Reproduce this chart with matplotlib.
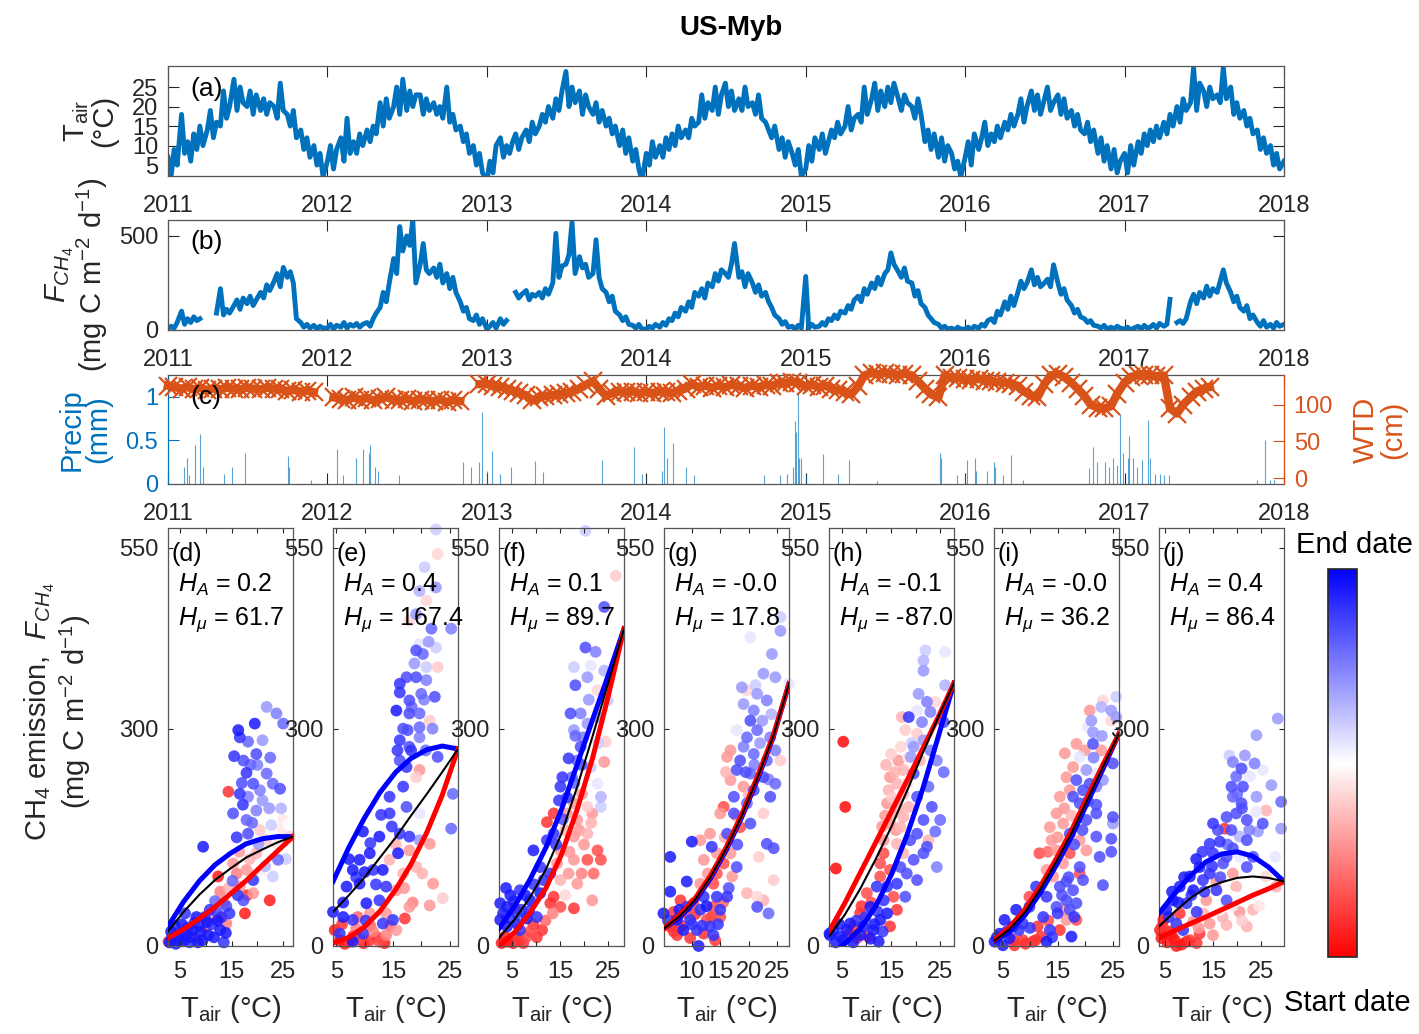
import numpy as np
import pandas as pd
import matplotlib

matplotlib.use("Agg")
import matplotlib.pyplot as plt  # noqa: E402
from matplotlib.colors import LinearSegmentedColormap, Normalize  # noqa: E402
from matplotlib.colorbar import ColorbarBase  # noqa: E402

plt.rcParams["font.family"] = ["Liberation Sans", "DejaVu Sans"]
plt.rcParams["mathtext.fontset"] = "custom"
plt.rcParams["mathtext.rm"] = "Liberation Sans"
plt.rcParams["mathtext.it"] = "Liberation Sans:italic"
plt.rcParams["mathtext.bf"] = "Liberation Sans:bold"

nan = float("nan")

# ---- air temperature and CH4 flux, 4 samples a month (days 1, 8, 15, 22), one row per half year, + 2018-01-01
TAIR = [
    7, 2, 9, 5, 18, 8, 11, 6, 13, 9, 15, 10, 14, 19, 12, 16, 15, 24, 17, 20, 27, 19, 25, 21,
    20, 24, 18, 23, 19, 22, 18, 21, 20, 17, 26, 19, 18, 15, 19, 12, 14, 9, 12, 7, 10, 5, 8, 2,
    6, 10, 4, 9, 12, 6, 17, 8, 11, 8, 13, 10, 14, 11, 15, 13, 21, 15, 22, 17, 20, 25, 18, 27,
    19, 24, 20, 23, 23, 18, 22, 19, 21, 18, 20, 17, 25, 16, 18, 14, 15, 11, 13, 8, 10, 5, 8, 3,
    1, 6, 3, 10, 12, 7, 10, 8, 11, 13, 9, 12, 14, 11, 16, 13, 15, 18, 16, 20, 17, 22, 19, 24,
    29, 20, 25, 21, 24, 18, 23, 20, 18, 21, 16, 19, 15, 17, 13, 15, 10, 14, 8, 12, 6, 9, 4, 1,
    8, 5, 11, 7, 10, 7, 12, 9, 13, 10, 15, 12, 14, 12, 17, 15, 16, 23, 17, 21, 19, 25, 18, 23,
    26, 20, 24, 19, 22, 19, 25, 20, 21, 18, 23, 17, 16, 14, 12, 15, 9, 12, 7, 11, 8, 5, 9, 2,
    4, 10, 6, 12, 9, 13, 8, 11, 14, 12, 16, 13, 15, 20, 14, 17, 18, 16, 25, 18, 22, 26, 19, 24,
    20, 25, 21, 26, 22, 19, 23, 21, 20, 17, 22, 18, 11, 14, 9, 13, 7, 12, 6, 10, 8, 4, 6, 2,
    7, 11, 5, 13, 9, 12, 16, 10, 13, 11, 15, 12, 16, 14, 18, 15, 18, 22, 16, 20, 24, 19, 23, 18,
    22, 25, 19, 21, 23, 18, 22, 17, 19, 15, 18, 14, 13, 16, 11, 14, 8, 12, 6, 10, 4, 9, 3, 6,
    8, 3, 10, 5, 11, 8, 13, 10, 14, 11, 15, 12, 16, 13, 18, 15, 20, 16, 22, 19, 21, 30, 19, 26,
    24, 20, 25, 22, 23, 21, 30, 22, 25, 18, 21, 17, 19, 15, 17, 13, 14, 9, 12, 8, 10, 5, 8, 4,
    6,
]
FCH4 = [
    5, 20, 10, 40, 100, 30, 60, 40, 70, 50, 60, nan, nan, nan, nan, 90, 220, 80, 110, 90, 130, 160, 110, 170,
    140, 180, 130, 160, 200, 170, 240, 210, 260, 300, 230, 333, 280, 310, 250, 60, 40, 15, 30, 10, 25, 5, 20, 10,
    10, 30, 5, 25, 15, 40, 10, 30, 20, 35, 15, 30, 40, 20, 60, 90, 120, 200, 150, 250, 380, 300, 550, 420,
    500, 450, 584, 250, 350, 460, 320, 300, 330, 280, 350, 250, 300, 220, 280, 200, 150, 100, 120, 60, 50, 80, 30, 60,
    5, 20, 40, 10, 60, 30, 50, nan, nan, 200, 170, 190, 210, 160, 190, 180, 200, 170, 220, 190, 250, 514, 280, 340,
    350, 400, 575, 300, 390, 330, 350, 280, 300, 480, 280, 220, 200, 150, 180, 100, 80, 50, 70, 30, 25, 10, 30, 5,
    5, 20, 10, 30, 15, 40, 25, 60, 50, 90, 70, 120, 100, 150, 120, 200, 180, 220, 170, 250, 230, 300, 260, 320,
    300, 280, 350, 460, 280, 310, 230, 300, 250, 200, 240, 180, 200, 150, 120, 80, 60, 30, 45, 15, 20, 5, 25, 10,
    285, 10, 30, 15, 20, 40, 25, 60, 50, 80, 60, 100, 90, 130, 110, 160, 180, 150, 220, 190, 250, 220, 280, 240,
    300, 320, 410, 350, 310, 280, 330, 260, 250, 180, 210, 140, 120, 80, 60, 40, 30, 10, 20, 5, 10, 0, 15, 5,
    5, 15, 0, 20, 10, 30, 20, 50, 60, 40, 100, 80, 150, 110, 180, 130, 200, 260, 220, 250, 320, 240, 280, 230,
    250, 270, 230, 347, 250, 190, 220, 160, 130, 90, 110, 70, 60, 40, 50, 25, 20, 10, 25, 5, 15, 5, 20, 10,
    5, 15, 0, 10, 20, 5, 25, 10, 15, 30, 10, 35, 20, 30, 163, nan, 40, 50, 35, 60, 150, 190, 140, 200,
    170, 233, 180, 220, 200, 260, 320, 250, 200, 150, 180, 120, 100, 130, 60, 80, 40, 20, 50, 15, 30, 10, 40, 20,
    30,
]
# ---- water table depth, semi-monthly (1st / 15th), one row per year, + 2018-01-01
WTD = [
    126, 124, 122, 124, 121, 123, 120, 122, 121, 123, 122, 121, 123, 122, 121, 123, 122, 121, 119, 120, 118, 119, 117, nan,
    nan, 110, 108, 106, 110, 107, 109, 106, 108, 110, 107, 106, 108, 105, 107, 106, 105, 107, 104, 106, 105, nan, nan, 128,
    128, 126, 124, 122, 119, 116, 113, 106, 110, 112, 113, 114, 116, 118, 122, 127, 132, 122, 112, 116, 118, 117, 118, 116,
    117, 116, 118, 117, 116, 119, 122, 128, 124, 126, 123, 126, 124, 127, 125, 123, 126, 124, 127, 126, 129, 130, 131, 130,
    125, 127, 124, 126, 122, 120, 118, 114, 125, 140, 143, 142, 143, 142, 141, 142, 140, 132, 122, 114, 110, 140, 137, 136,
    135, 134, 135, 133, 132, 131, 130, 128, 126, 118, 112, 110, 128, 140, 142, 138, 130, 122, 112, 100, 96, 95, 98, 115,
    130, 138, 140, 141, 140, 139, 140, 95, 88, 100, 110, 118, 122, 124, nan, nan, nan, nan, nan, nan, nan, nan, nan, nan,
    nan,
]
PRECIP_YEAR = [
    2011.10, 2011.12, 2011.13, 2011.17, 2011.20, 2011.22, 2011.35, 2011.40, 2011.48, 2011.75, 2011.76, 2011.90,
    2012.06, 2012.10, 2012.18, 2012.22, 2012.26, 2012.27, 2012.30, 2012.32, 2012.45,
    2012.85, 2012.90, 2012.95, 2012.97, 2013.00, 2013.03, 2013.08, 2013.15, 2013.30, 2013.35, 2013.72, 2013.92, 2013.97,
    2014.10, 2014.11, 2014.13, 2014.17, 2014.25, 2014.30,
    2014.74, 2014.84, 2014.88, 2014.92, 2014.93, 2014.94, 2014.95, 2014.96, 2014.97, 2015.00, 2015.11, 2015.20, 2015.27, 2015.45,
    2015.84, 2015.85, 2015.95, 2016.00, 2016.01, 2016.06, 2016.07, 2016.14, 2016.18, 2016.19, 2016.24, 2016.29, 2016.36,
    2016.78, 2016.80, 2016.83, 2016.88, 2016.90, 2016.93, 2016.95, 2016.97, 2016.99, 2017.02, 2017.03, 2017.05, 2017.08,
    2017.11, 2017.15, 2017.16, 2017.19, 2017.22, 2017.25, 2017.28,
    2017.83, 2017.88, 2017.91, 2017.94,
]
PRECIP_MM = [
    0.2, 0.3, 0.1, 0.45, 0.57, 0.2, 0.12, 0.2, 0.35, 0.32, 0.2, 0.05,
    0.4, 0.1, 0.3, 0.4, 0.35, 0.45, 0.2, 0.15, 0.1,
    0.25, 0.2, 0.25, 0.82, 0.15, 0.38, 0.12, 0.2, 0.26, 0.14, 0.27, 0.42, 0.12,
    0.15, 0.65, 0.3, 0.47, 0.2, 0.1,
    0.1, 0.1, 0.12, 0.2, 0.72, 0.6, 1.05, 0.3, 0.3, 0.1, 0.34, 0.12, 0.27, 0.03,
    0.36, 0.3, 0.1, 0.1, 0.28, 0.3, 0.15, 0.15, 0.25, 0.2, 0.1, 0.33, 0.05,
    0.18, 0.43, 0.25, 0.25, 0.2, 0.3, 0.22, 0.8, 0.35, 0.3, 0.55, 0.3, 0.2,
    0.28, 0.73, 0.3, 0.12, 0.12, 0.1, 0.1,
    0.05, 0.5, 0.05, 0.05,
]

# ---- scatter panels: (Tair degC, FCH4, date position 0=start .. 1=end)
POINTS_D = [
    (3.0, 5, .95), (3.5, 12, .9), (4.2, 3, .95), (5.0, 18, .9), (5.8, 8, .95), (6.5, 25, .9), (7.2, 12, .95),
    (7.8, 32, .9), (8.5, 5, .95), (9.0, 20, .95), (9.8, 40, .9), (10.5, 15, .95), (11.2, 30, .9), (12.0, 48, .85),
    (12.8, 22, .95), (13.5, 5, .9), (14.0, 55, .85), (9.5, 137, .95), (6.0, 45, .9), (11.8, 62, .8), (15.2, 90, .8),
    (16.2, 70, .9), (17.3, 63, .85), (15.5, 262, .9), (16.3, 298, .95), (16.6, 288, .9), (17.3, 256, .85),
    (18.2, 282, .8), (19.5, 307, .95), (19.8, 265, .85), (21.0, 284, .7), (21.8, 330, .7), (23.7, 321, .75),
    (25.0, 307, .8), (17.9, 239, .9), (19.2, 224, .85), (16.6, 210, .9), (21.8, 238, .8), (23.0, 224, .8),
    (24.4, 217, .85), (18.2, 206, .75), (21.0, 201, .7), (15.3, 183, .85), (17.9, 174, .8), (19.8, 187, .75),
    (18.2, 155, .85), (20.2, 141, .7), (22.7, 167, .6), (24.0, 119, .8), (23.0, 96, .6), (19.2, 91, .9),
    (21.5, 110, .65), (25.5, 120, .6), (14.4, 213, .1), (12.4, 96, .05), (17.6, 45, .05), (22.4, 63, .05),
    (15.3, 114, .3), (17.9, 105, .3), (19.8, 128, .35), (21.8, 146, .4), (25.0, 174, .45), (26.3, 151, .4),
    (23.0, 155, .5), (12.7, 40, .1), (14.0, 31, .25), (11.5, 45, .3), (2.8, 6, .1), (16.6, 82, .3), (19.2, 73, .3),
    (21.0, 91, .5), (13.5, 60, .2), (10.0, 25, .2), (8.0, 10, .15), (24.0, 140, .45), (20.5, 160, .4),
    (18.5, 120, .35), (16.0, 100, .25),
    (3.3, 20, .95), (4.0, 28, .9), (4.8, 8, .95), (5.4, 30, .95), (6.2, 15, .95), (6.9, 5, .9), (7.5, 22, .95),
    (8.2, 40, .95), (8.8, 28, .9), (9.4, 8, .95), (10.2, 33, .95), (10.8, 50, .9), (11.6, 12, .95), (12.3, 35, .95),
    (13.1, 40, .9), (13.9, 18, .95), (14.6, 45, .9), (16.0, 150, .9), (17.0, 225, .85), (18.7, 250, .8),
    (20.5, 215, .75), (22.3, 190, .7), (24.6, 190, .65), (19.0, 170, .8), (17.2, 195, .9), (20.0, 250, .75),
    (22.5, 260, .8), (16.5, 130, .3), (14.5, 80, .35), (12.8, 75, .25), (18.0, 70, .1), (20.5, 100, .45),
    (24.5, 160, .45), (26.0, 168, .5),
]
POINTS_E = [
    (22.6, 575, .6), (22.9, 541, .42), (20.6, 523, .6), (19.7, 490, .65), (22.6, 495, .7), (20.9, 477, .42),
    (19.1, 458, .7), (25.3, 438, .75), (21.8, 438, .8), (17.9, 449, .42), (19.7, 417, .55), (22.6, 412, .6),
    (19.1, 408, .85), (20.3, 403, .8), (22.9, 385, .4), (20.9, 385, .6), (18.8, 390, .7), (17.4, 371, .85),
    (19.1, 371, .85), (20.9, 367, .75), (16.2, 362, .9), (20.0, 348, .8), (22.4, 344, .85), (16.2, 350, .9),
    (17.9, 339, .85), (19.7, 321, .8), (15.6, 325, .95), (17.9, 321, .85), (21.5, 311, .4), (17.6, 298, .85),
    (19.7, 302, .8), (16.2, 284, .9), (17.9, 275, .85), (19.7, 288, .75), (22.9, 261, .85), (16.2, 256, .85),
    (17.4, 247, .9), (19.1, 233, .4), (19.7, 243, .3), (14.4, 206, .9), (16.8, 220, .9), (25.6, 210, .8),
    (17.4, 192, .85), (21.5, 201, .5), (12.9, 181, .9), (14.4, 183, .9), (19.7, 183, .55), (25.3, 162, .8),
    (12.6, 151, .95), (9.7, 158, .95), (16.2, 155, .9), (17.9, 151, .9), (19.7, 146, .7), (15.9, 128, .95),
    (21.5, 141, .3), (17.9, 132, .3), (14.4, 119, .35), (10.9, 128, .95), (9.1, 119, .95), (11.5, 105, .9),
    (7.9, 105, .95), (19.1, 109, .35), (16.8, 100, .35), (22.1, 86, .3), (9.1, 86, .95), (6.8, 82, .95),
    (13.8, 82, .9), (15.6, 77, .3), (23.8, 66, .4), (21.5, 56, .3), (17.9, 54, .3), (12.6, 63, .9), (10.3, 59, .95),
    (4.4, 47, .95), (6.2, 40, .95), (7.9, 36, .9), (10.9, 45, .3), (13.8, 45, .3), (17.1, 38, .1), (13.2, 31, .9),
    (15.0, 36, .9), (9.7, 17, .9), (7.9, 6, .95), (4.7, 22, .05), (5.6, 8, .05), (7.4, 6, .1), (9.1, 11, .15),
    (10.9, 8, .1), (12.6, 6, .15), (11.5, 20, .25), (13.8, 15, .25), (15.6, 22, .3), (8.5, 24, .25), (5.6, 17, .9),
    (6.5, 3, .05), (8.0, 14, .1), (9.8, 4, .05), (11.0, 28, .2), (12.2, 12, .1), (13.5, 4, .05), (14.5, 28, .2),
    (6.0, 30, .1), (8.8, 40, .2), (10.2, 35, .9), (12.0, 85, .9), (13.2, 105, .95), (11.0, 142, .9),
    (14.8, 165, .9), (15.5, 140, .35), (17.0, 80, .3), (18.5, 60, .25), (20.2, 100, .35), (16.8, 300, .85),
    (18.3, 330, .8), (20.5, 340, .75), (21.3, 420, .7), (18.2, 270, .9), (15.8, 270, .9), (20.8, 270, .8),
    (22.0, 300, .75), (6.2, 60, .95), (7.2, 120, .95), (8.5, 95, .9), (10.0, 102, .95),
]
POINTS_F = [
    (20.3, 573, .6), (26.6, 511, .4), (24.2, 468, .85), (20.3, 412, .85), (22.4, 406, .75), (17.9, 385, .6),
    (21.4, 387, .55), (24.2, 380, .65), (18.2, 360, .85), (20.7, 371, .7), (22.8, 353, .42), (24.9, 339, .6),
    (17.2, 321, .85), (19.3, 321, .75), (20.7, 307, .7), (22.8, 316, .65), (17.9, 298, .7), (19.8, 288, .75),
    (24.5, 282, .4), (19.3, 275, .85), (16.8, 259, .9), (18.6, 256, .8), (24.2, 254, .3), (21.4, 247, .6),
    (22.8, 224, .55), (15.5, 233, .9), (17.5, 233, .8), (15.1, 220, .9), (23.5, 206, .65), (19.6, 210, .3),
    (14.8, 201, .9), (17.9, 197, .3), (20.7, 192, .4), (23.5, 192, .6), (13.7, 183, .1), (16.5, 183, .3),
    (12.3, 171, .1), (21.7, 183, .3), (18.6, 174, .3), (16.1, 160, .35), (13.7, 155, .9), (17.9, 151, .3),
    (20.7, 155, .35), (12.3, 146, .9), (9.5, 132, .95), (15.1, 132, .3), (22.8, 132, .15), (20.7, 119, .15),
    (23.5, 119, .15), (14.4, 114, .3), (17.9, 119, .3), (10.9, 109, .9), (13.0, 100, .9), (16.8, 100, .3),
    (11.6, 91, .9), (15.1, 91, .35), (18.6, 86, .3), (21.7, 63, .3), (16.1, 70, .42), (13.7, 68, .1),
    (10.9, 73, .95), (8.8, 63, .95), (13.0, 59, .1), (17.9, 52, .1), (15.1, 54, .15), (6.7, 77, .9), (4.7, 70, .95),
    (2.6, 59, .95), (4.0, 54, .95), (6.0, 45, .9), (8.1, 38, .95), (10.2, 40, .9), (2.6, 36, .95), (4.0, 27, .95),
    (6.7, 22, .9), (9.5, 29, .1), (11.3, 22, .1), (3.6, 13, .05), (5.3, 4, .05), (6.7, 8, .1), (2.9, 4, .05),
    (8.1, 13, .15), (5.7, 52, .05),
    (3.2, 45, .95), (3.8, 80, .95), (4.6, 38, .9), (5.4, 62, .95), (6.2, 30, .95), (7.0, 50, .9), (7.8, 70, .95),
    (8.6, 48, .9), (9.6, 85, .9), (4.2, 6, .05), (6.0, 14, .1), (7.4, 4, .1), (8.8, 20, .15), (10.2, 12, .1),
    (12.0, 35, .2), (13.5, 45, .25), (14.2, 140, .9), (15.6, 175, .85), (16.5, 205, .9), (18.0, 225, .8),
    (19.0, 160, .3), (20.0, 140, .3), (21.5, 170, .35), (22.0, 100, .2), (19.5, 100, .25), (17.0, 130, .3),
    (18.2, 290, .8), (21.0, 340, .7), (19.5, 250, .85), (23.0, 280, .6),
]
POINTS_G = [
    (25.6, 435, .7), (25.6, 454, .6), (20.3, 426, .55), (24.1, 403, .7), (22.6, 376, .7), (24.7, 371, .7),
    (27.1, 362, .55), (18.8, 357, .7), (21.5, 348, .7), (19.7, 353, .42), (23.2, 339, .75), (19.1, 334, .7),
    (20.9, 325, .75), (22.4, 311, .7), (17.9, 298, .55), (20.3, 311, .85), (21.5, 298, .8), (23.8, 288, .75),
    (19.7, 288, .8), (16.8, 270, .3), (19.1, 275, .75), (24.7, 270, .75), (25.6, 256, .4), (16.2, 261, .3),
    (18.5, 256, .85), (20.9, 265, .8), (23.2, 256, .8), (17.9, 243, .85), (20.3, 238, .8), (16.8, 229, .3),
    (22.6, 233, .85), (24.7, 224, .8), (19.1, 220, .3), (20.9, 215, .85), (17.4, 206, .85), (23.8, 206, .85),
    (19.7, 197, .8), (22.6, 183, .4), (15.0, 183, .3), (17.4, 183, .85), (15.6, 192, .15), (20.3, 169, .85),
    (18.5, 164, .15), (13.2, 155, .3), (16.2, 155, .85), (11.5, 146, .3), (10.0, 144, .95), (13.5, 137, .9),
    (23.2, 141, .85), (24.4, 135, .85), (21.8, 123, .4), (14.4, 128, .3), (16.8, 128, .3), (6.2, 123, .95),
    (12.1, 119, .3), (15.6, 114, .15), (17.9, 109, .85), (14.4, 100, .15), (17.1, 96, .3), (9.1, 89, .95),
    (24.4, 91, .4), (11.5, 86, .3), (13.8, 86, .15), (6.2, 75, .95), (19.7, 73, .35), (21.5, 68, .42),
    (22.6, 63, .35), (16.2, 68, .9), (14.4, 68, .9), (12.1, 68, .9), (8.0, 63, .1), (10.3, 59, .15),
    (21.5, 54, .85), (23.5, 45, .8), (5.0, 45, .95), (6.8, 47, .1), (9.1, 54, .9), (11.5, 50, .9), (13.8, 54, .15),
    (15.0, 50, .9), (7.4, 36, .95), (9.7, 36, .9), (12.6, 36, .15), (15.0, 40, .15), (6.2, 27, .1), (8.5, 22, .95),
    (10.9, 22, .9), (13.2, 27, .9), (7.4, 15, .1), (9.7, 11, .1), (13.8, 15, .9), (14.1, 8, .1), (11.2, 0, .95),
    (12.1, 17, .1),
    (5.8, 35, .9), (6.8, 20, .1), (7.8, 50, .95), (8.2, 28, .1), (9.0, 45, .15), (10.0, 30, .9), (10.6, 44, .1),
    (11.8, 28, .9), (12.6, 55, .95), (13.4, 40, .1), (14.6, 30, .9), (15.5, 60, .2), (16.5, 80, .85),
    (12.8, 100, .3), (15.8, 150, .35), (17.8, 180, .3), (18.0, 140, .85), (19.5, 240, .85), (21.0, 250, .75),
    (22.0, 280, .7), (20.0, 210, .35), (23.5, 230, .75), (24.0, 320, .65), (21.2, 360, .6), (18.2, 320, .5),
    (16.0, 240, .35),
]
POINTS_H = [
    (5.3, 282, .02), (5.7, 192, .02), (3.8, 107, .02), (22.0, 408, .6), (26.0, 406, .55), (21.6, 394, .65),
    (21.6, 380, .7), (26.0, 360, .65), (20.6, 348, .7), (22.3, 337, .75), (24.0, 337, .42), (20.3, 325, .55),
    (23.0, 323, .75), (18.6, 316, .9), (17.2, 316, .35), (25.7, 309, .85), (21.3, 309, .75), (20.3, 293, .4),
    (17.9, 298, .4), (21.6, 284, .7), (19.6, 275, .7), (23.0, 270, .75), (19.0, 261, .7), (16.5, 256, .3),
    (20.9, 256, .35), (24.3, 256, .75), (17.5, 243, .35), (19.6, 238, .85), (14.8, 233, .3), (25.7, 240, .8),
    (16.2, 224, .35), (18.2, 224, .42), (22.6, 220, .8), (14.5, 215, .35), (17.5, 210, .35), (20.3, 206, .85),
    (16.2, 201, .35), (14.2, 197, .3), (23.3, 192, .85), (18.6, 192, .35), (15.5, 183, .35), (17.5, 178, .35),
    (21.6, 174, .85), (25.0, 174, .8), (14.8, 169, .3), (16.9, 164, .35), (24.0, 158, .8), (20.3, 155, .85),
    (22.6, 146, .35), (18.9, 146, .85), (13.5, 146, .3), (16.2, 141, .35), (22.3, 137, .85), (24.3, 109, .75),
    (21.6, 128, .85), (17.5, 128, .35), (13.5, 128, .15), (19.6, 119, .85), (16.9, 109, .85), (12.8, 114, .15),
    (14.8, 105, .15), (18.2, 100, .85), (20.3, 91, .85), (16.2, 86, .9), (12.8, 96, .15), (14.2, 82, .9),
    (12.1, 82, .9), (17.9, 68, .85), (15.5, 68, .15), (10.1, 73, .15), (13.5, 63, .9), (10.8, 54, .95),
    (14.2, 45, .95), (16.2, 50, .1), (8.7, 45, .1), (12.8, 36, .95), (14.8, 27, .1), (6.7, 31, .95), (9.4, 27, .95),
    (11.4, 22, .95), (3.3, 22, .95), (4.7, 13, .95), (6.7, 17, .1), (8.1, 11, .1), (10.4, 13, .1), (12.5, 6, .95),
    (2.6, 15, .95), (2.5, 17, .95),
    (3.8, 5, .95), (4.5, 30, .95), (5.3, 8, .95), (6.0, 22, .95), (7.3, 5, .95), (8.0, 35, .9), (8.8, 15, .95),
    (9.8, 40, .9), (10.8, 10, .95), (11.6, 30, .95), (12.2, 48, .9), (13.3, 20, .9), (7.5, 28, .1), (9.0, 55, .1),
    (11.0, 60, .15), (14.0, 250, .35), (15.0, 265, .4), (15.8, 240, .35), (16.5, 190, .35), (15.2, 205, .4),
    (13.8, 180, .3), (17.0, 275, .42), (18.5, 260, .45), (13.2, 165, .3), (16.0, 160, .3), (19.2, 280, .6),
]
POINTS_I = [
    (25.6, 344, .6), (23.2, 339, .42), (20.8, 325, .3), (22.9, 330, .65), (24.7, 325, .7), (25.6, 316, .7),
    (21.1, 311, .7), (20.5, 302, .55), (21.4, 295, .7), (24.7, 311, .42), (18.4, 279, .3), (21.4, 279, .85),
    (16.3, 266, .3), (19.0, 261, .55), (19.9, 270, .3), (22.9, 270, .3), (17.8, 247, .3), (20.2, 243, .7),
    (22.0, 238, .55), (25.0, 252, .85), (16.6, 233, .3), (18.4, 229, .85), (20.8, 224, .85), (23.2, 229, .7),
    (15.4, 206, .3), (17.8, 206, .85), (19.6, 215, .85), (22.0, 220, .75), (14.8, 183, .3), (19.0, 197, .85),
    (22.0, 183, .85), (25.0, 178, .85), (20.2, 174, .85), (25.0, 169, .7), (13.6, 164, .3), (16.0, 169, .3),
    (17.2, 155, .85), (19.0, 146, .3), (22.0, 151, .85), (24.7, 148, .85), (13.9, 146, .3), (14.8, 132, .3),
    (17.2, 128, .15), (11.7, 128, .15), (20.2, 132, .3), (22.6, 123, .85), (24.7, 130, .85), (16.0, 114, .3),
    (13.0, 105, .3), (19.0, 109, .85), (23.2, 84, .85), (14.2, 96, .3), (16.6, 89, .85), (19.6, 91, .85),
    (19.0, 100, .15), (11.1, 82, .9), (15.4, 82, .85), (17.8, 77, .85), (9.9, 68, .15), (13.0, 68, .9),
    (16.6, 63, .85), (18.4, 59, .85), (7.5, 50, .95), (9.9, 54, .9), (14.8, 54, .85), (17.2, 50, .85),
    (16.6, 36, .3), (18.4, 36, .15), (5.4, 36, .95), (6.9, 27, .95), (8.7, 31, .9), (11.4, 27, .1), (13.6, 22, .9),
    (15.4, 22, .1), (17.5, 13, .95), (4.5, 17, .95), (6.3, 11, .95), (8.7, 8, .1), (10.5, 6, .1), (13.0, 6, .95),
    (3.6, 6, .95), (5.1, 1, .95), (7.2, 1, .1), (12.0, 13, .1),
    (4.0, 12, .95), (5.8, 20, .9), (7.0, 8, .1), (8.0, 22, .9), (9.2, 3, .1), (10.0, 25, .9), (11.0, 8, .1),
    (12.4, 40, .9), (13.3, 35, .15), (14.0, 12, .9), (15.0, 45, .9), (15.8, 70, .85), (16.2, 50, .3),
    (17.0, 95, .85), (18.0, 40, .9), (15.0, 150, .3), (16.2, 190, .3), (17.2, 215, .3), (17.5, 180, .35),
    (18.0, 140, .85), (19.5, 160, .85), (20.5, 200, .85), (21.5, 260, .75), (23.0, 290, .7), (22.0, 195, .85),
    (13.2, 130, .2),
]
POINTS_J = [
    (28.4, 314, .7), (24.0, 291, .7), (18.4, 263, .6), (21.6, 263, .7), (19.1, 254, .75), (23.6, 252, .75),
    (20.9, 245, .85), (25.3, 243, .55), (19.8, 234, .8), (22.6, 234, .55), (18.8, 220, .85), (21.2, 220, .85),
    (27.1, 222, .7), (29.1, 199, .8), (19.1, 206, .8), (24.0, 206, .7), (20.9, 197, .85), (26.0, 187, .35),
    (19.8, 183, .85), (24.0, 185, .55), (17.8, 178, .85), (22.0, 174, .85), (15.0, 169, .9), (17.4, 162, .1),
    (25.3, 169, .85), (29.1, 162, .7), (18.8, 160, .85), (20.5, 151, .65), (24.3, 158, .7), (14.3, 141, .9),
    (16.4, 144, .9), (22.0, 146, .85), (19.1, 135, .85), (15.0, 128, .9), (17.8, 123, .85), (20.5, 123, .55),
    (23.3, 123, .85), (27.9, 123, .55), (12.2, 109, .95), (17.1, 114, .85), (14.3, 100, .9), (19.1, 100, .3),
    (22.0, 109, .85), (26.0, 96, .42), (10.2, 96, .95), (12.9, 91, .9), (15.7, 89, .3), (19.8, 82, .35),
    (28.1, 82, .35), (8.1, 82, .95), (10.9, 77, .95), (15.7, 77, .9), (24.0, 73, .5), (19.1, 68, .5),
    (6.7, 63, .95), (9.5, 59, .9), (13.6, 63, .3), (17.8, 63, .85), (5.3, 50, .95), (8.1, 45, .1), (11.6, 47, .9),
    (16.4, 50, .5), (20.5, 47, .3), (23.3, 50, .35), (4.7, 36, .05), (7.4, 31, .9), (10.9, 34, .3), (14.3, 31, .3),
    (17.8, 29, .35), (22.0, 27, .35), (4.0, 22, .05), (6.0, 20, .05), (8.8, 22, .9), (12.2, 17, .1), (15.0, 15, .3),
    (4.3, 11, .05), (7.1, 8, .05), (9.5, 6, .05), (11.6, 4, .1), (7.4, 0, .05),
    (4.5, 28, .1), (5.5, 5, .05), (6.5, 14, .05), (8.5, 2, .05), (10.2, 8, .1), (5.8, 40, .9), (6.5, 75, .95),
    (7.8, 60, .95), (9.0, 95, .95), (10.5, 70, .9), (11.5, 120, .95), (12.8, 130, .9), (13.2, 75, .9),
    (14.8, 110, .9), (16.0, 160, .85), (16.5, 95, .85), (18.0, 140, .8), (21.0, 190, .85), (20.0, 210, .8),
    (22.5, 160, .75), (17.0, 40, .35), (19.0, 55, .45), (21.0, 35, .4), (24.5, 55, .45), (13.0, 45, .35),
    (12.0, 25, .3),
]

# fitted curves sampled across each panel's Tair range: whole period (black), late (blue), early (red)
CURVE_T_D = [2.7, 5.7, 8.8, 11.8, 14.8, 17.8, 20.9, 23.9, 26.9]
BLUE_D = [27, 61, 90, 112, 128, 141, 148, 151, 151]
BLACK_D = [20, 47, 71, 91, 107, 122, 133, 143, 151]
RED_D = [11, 23, 38, 54, 72, 90, 111, 131, 151]
CURVE_T_E = [4.4, 7.2, 9.9, 12.7, 15.5, 18.2, 21.0, 23.7, 26.5]
BLUE_E = [89, 136, 176, 212, 240, 259, 271, 276, 272]
BLACK_E = [47, 70, 94, 122, 150, 180, 210, 240, 272]
RED_E = [4, 12, 26, 48, 78, 113, 157, 208, 272]
CURVE_T_F = [2.35, 5.6, 8.8, 12.1, 15.3, 18.6, 21.8, 25.1, 28.3]
BLUE_F = [24, 55, 92, 136, 188, 251, 313, 375, 438]
BLACK_F = [11, 37, 67, 106, 155, 220, 290, 365, 438]
RED_F = [0, 19, 46, 80, 126, 189, 260, 347, 438]
CURVE_T_G = [5.1, 7.85, 10.6, 13.35, 16.1, 18.85, 21.6, 24.35, 27.1]
BLUE_G = [24, 39, 62, 94, 133, 179, 231, 289, 362]
BLACK_G = [24, 41, 64, 96, 135, 181, 233, 290, 362]
RED_G = [24, 43, 66, 98, 137, 183, 235, 291, 362]
CURVE_T_H = [2.4, 5.6, 8.75, 11.9, 15.1, 18.3, 21.5, 24.6, 27.8]
BLUE_H = [-12, 3, 24, 55, 99, 154, 218, 289, 363]
BLACK_H = [13, 43, 79, 120, 165, 215, 267, 316, 363]
RED_H = [20, 59, 101, 143, 186, 229, 273, 316, 363]
CURVE_T_I = [3.5, 6.3, 9.15, 12.0, 14.8, 17.6, 20.45, 23.3, 26.1]
BLUE_I = [6, 20, 43, 75, 112, 152, 199, 246, 293]
BLACK_I = [7, 23, 47, 80, 117, 157, 203, 249, 293]
RED_I = [8, 26, 51, 84, 121, 161, 207, 252, 293]
CURVE_T_J = [3.8, 7.0, 10.3, 13.5, 16.75, 20.0, 23.2, 26.5, 29.7]
BLUE_J = [45, 72, 97, 116, 127, 130, 124, 109, 89]
BLACK_J = [27, 47, 66, 80, 88, 94, 96, 94, 89]
RED_J = [11, 21, 31, 40, 50, 60, 70, 79, 89]

PANEL_TAGS = ["(d)", "(e)", "(f)", "(g)", "(h)", "(i)", "(j)"]
H_A = ["0.2", "0.4", "0.1", "-0.0", "-0.1", "-0.0", "0.4"]
H_MU = ["61.7", "167.4", "89.7", "17.8", "-87.0", "36.2", "86.4"]

BLUE = "#0072BD"
ORANGE = "#D95319"
INK = "#262626"
FRAME = "#555555"
DATE_CMAP = LinearSegmentedColormap.from_list("start_end", ["#ff0000", "#ffffff", "#0000ff"])

W, H = 1419, 1034
fig = plt.figure(figsize=(W / 100, H / 100), dpi=100)


def px_axes(left, top, right, bottom):
    """Axes placed by pixel box (origin top-left), like the reference layout."""
    return fig.add_axes([left / W, 1 - bottom / H, (right - left) / W, (bottom - top) / H])


def frame(ax, ticklen, xpad=11):
    ax.tick_params(direction="in", top=True, right=True, length=ticklen, width=0.8,
                   color=INK, labelcolor=INK, labelsize=17)
    ax.tick_params(axis="x", pad=xpad)
    ax.tick_params(axis="y", pad=7)
    for spine in ax.spines.values():
        spine.set_color(FRAME)
        spine.set_linewidth(0.9)


def decimal_year(dates):
    dates = pd.DatetimeIndex(dates)
    days = np.where(dates.is_leap_year, 366, 365)
    return np.asarray(dates.year + (dates.dayofyear - 1) / days, dtype=float)


month_starts = pd.date_range("2011-01-01", "2017-12-01", freq="MS")
weekly_dates = [m + pd.Timedelta(days=d) for m in month_starts for d in (0, 7, 14, 21)]
weekly_years = decimal_year(weekly_dates + [pd.Timestamp("2018-01-01")])
semimonthly_years = decimal_year(pd.date_range("2011-01-01", periods=len(WTD), freq="SMS"))
year_ticks = list(range(2011, 2019))

fig.text(731 / W, 1 - 28 / H, "US-Myb", ha="center", va="center", fontsize=20, fontweight="bold")

# (a) air temperature
ax_a = px_axes(168, 66, 1284, 176)
ax_a.plot(weekly_years, TAIR, color=BLUE, lw=3.5)
ax_a.set_xlim(2011, 2018)
ax_a.set_ylim(2.2, 30.4)
ax_a.set_xticks(year_ticks)
ax_a.set_yticks([5, 10, 15, 20, 25])
frame(ax_a, 8, xpad=14)
ax_a.set_ylabel("T$_{\\mathrm{air}}$\n(°C)", fontsize=21, color=INK, linespacing=0.95)
ax_a.yaxis.set_label_coords(-0.045, 0.5)
ax_a.text(0.02, 0.90, "(a)", transform=ax_a.transAxes, fontsize=19, va="top")

# (b) methane flux
ax_b = px_axes(168, 220, 1284, 330)
ax_b.plot(weekly_years, FCH4, color=BLUE, lw=3.5)
ax_b.set_xlim(2011, 2018)
ax_b.set_ylim(0, 585)
ax_b.set_xticks(year_ticks)
ax_b.set_yticks([0, 500])
frame(ax_b, 8, xpad=14)
ax_b.set_ylabel("$F_{CH_4}$\n(mg C m$^{-2}$ d$^{-1}$)", fontsize=21, color=INK, linespacing=0.95)
ax_b.yaxis.set_label_coords(-0.052, 0.5)
ax_b.text(0.02, 0.91, "(b)", transform=ax_b.transAxes, fontsize=19, va="top")

# (c) precipitation + water table depth
ax_c = px_axes(168, 375, 1284, 484)
ax_c.vlines(PRECIP_YEAR, 0, PRECIP_MM, color=BLUE, lw=0.8, alpha=0.65)
ax_c.set_xlim(2011, 2018)
ax_c.set_ylim(0, 1.25)
ax_c.set_xticks(year_ticks)
ax_c.set_yticks([0, 0.5, 1], ["0", "0.5", "1"])
frame(ax_c, 8, xpad=14)
ax_c.tick_params(axis="y", right=False, color=BLUE, labelcolor=BLUE)
ax_c.spines["left"].set_color(BLUE)
ax_c.spines["right"].set_color(ORANGE)
ax_c.set_ylabel("Precip\n(mm)", fontsize=21, color=BLUE, linespacing=0.95)
ax_c.yaxis.set_label_coords(-0.05, 0.5)

ax_w = ax_c.twinx()
ax_w.plot(semimonthly_years, WTD, color=ORANGE, lw=6, clip_on=False)
ax_w.plot(semimonthly_years, WTD, ls="none", marker="x", ms=13, mew=1.6, color=ORANGE, clip_on=False)
ax_w.set_ylim(-8, 140.5)
ax_w.set_yticks([0, 50, 100])
ax_w.tick_params(direction="in", length=8, width=0.8, color=ORANGE, labelcolor=ORANGE,
                 labelsize=17, pad=7)
for side in ("left", "top", "bottom"):
    ax_w.spines[side].set_visible(False)
ax_w.spines["right"].set_color(ORANGE)
ax_w.set_ylabel("WTD\n(cm)", fontsize=21, color=ORANGE, linespacing=0.95)
ax_w.yaxis.set_label_coords(1.061, 0.5)
ax_w.text(0.02, 0.91, "(c)", transform=ax_w.transAxes, fontsize=19, va="top")

# (d)-(j) flux vs temperature, coloured by date
panel_points = [POINTS_D, POINTS_E, POINTS_F, POINTS_G, POINTS_H, POINTS_I, POINTS_J]
curve_t = [CURVE_T_D, CURVE_T_E, CURVE_T_F, CURVE_T_G, CURVE_T_H, CURVE_T_I, CURVE_T_J]
curve_blue = [BLUE_D, BLUE_E, BLUE_F, BLUE_G, BLUE_H, BLUE_I, BLUE_J]
curve_black = [BLACK_D, BLACK_E, BLACK_F, BLACK_G, BLACK_H, BLACK_I, BLACK_J]
curve_red = [RED_D, RED_E, RED_F, RED_G, RED_H, RED_I, RED_J]
panel_lefts = [168, 333, 499, 664, 829, 994, 1159]

for i, left in enumerate(panel_lefts):
    ax = px_axes(left, 528, left + 125, 946)
    t, f, c = np.array(panel_points[i], dtype=float).T
    order = np.argsort(c, kind="stable")
    ax.scatter(t[order], f[order], c=c[order], cmap=DATE_CMAP, vmin=0, vmax=1, s=72,
               alpha=0.85, edgecolors="none", clip_on=False, zorder=1)
    ax.plot(curve_t[i], curve_blue[i], color="#0000ff", lw=3.6, zorder=3, solid_joinstyle="round")
    ax.plot(curve_t[i], curve_red[i], color="#ff0000", lw=3.6, zorder=3, solid_joinstyle="round")
    ax.plot(curve_t[i], curve_black[i], color="black", lw=1.5, zorder=4)
    ax.set_xlim(curve_t[i][0], curve_t[i][-1])
    ax.set_ylim(0, 577)
    ax.set_yticks([0, 300, 550])
    if PANEL_TAGS[i] == "(g)":
        ax.set_xticks([10, 15, 20, 25])
    else:
        ax.set_xticks([5, 10, 15, 20, 25], ["5", "", "15", "", "25"])
    frame(ax, 3.5, xpad=11)
    ax.set_xlabel("T$_{\\mathrm{air}}$ (°C)", fontsize=21, color=INK, labelpad=7)
    ax.text(0.03, 0.92, PANEL_TAGS[i], transform=ax.transAxes, fontsize=18, va="baseline")
    ax.text(0.08, 0.847, f"$H_A$ = {H_A[i]}", transform=ax.transAxes, fontsize=18,
            va="baseline", zorder=5)
    ax.text(0.08, 0.768, f"$H_\\mu$ = {H_MU[i]}", transform=ax.transAxes, fontsize=18,
            va="baseline", zorder=5)

fig.text(58 / W, 1 - 712 / H, "CH$_4$ emission,  $F_{CH_4}$\n(mg C m$^{-2}$ d$^{-1}$)",
         rotation=90, ha="center", va="center", fontsize=21, color=INK,
         multialignment="center", linespacing=1.0)

cax = px_axes(1328, 569, 1357, 957)
cbar = ColorbarBase(cax, cmap=DATE_CMAP, norm=Normalize(0, 1), orientation="vertical")
cbar.set_ticks([])
cbar.outline.set_linewidth(1.2)
cbar.outline.set_edgecolor(INK)
fig.text(1354 / W, 1 - 545 / H, "End date", ha="center", va="center", fontsize=21, color="black")
fig.text(1347 / W, 1 - 1003 / H, "Start date", ha="center", va="center", fontsize=21, color="black")

fig.savefig("out.png", dpi=100)
